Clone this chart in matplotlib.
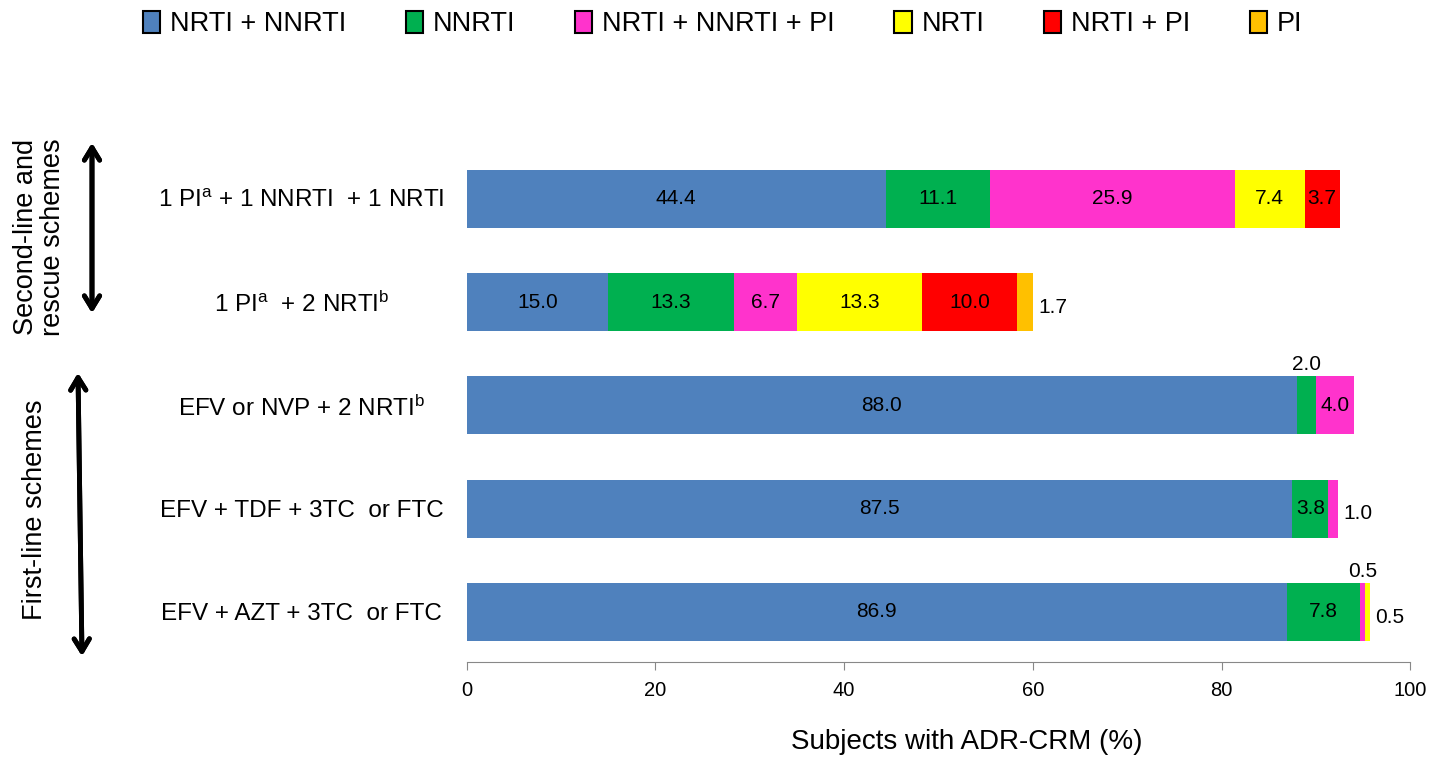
import numpy as np
import matplotlib.pyplot as plt

plt.rcParams['font.family'] = ['Liberation Sans', 'DejaVu Sans']
plt.rcParams['mathtext.default'] = 'regular'

# bottom to top
regimens = [
    'EFV + AZT + 3TC  or FTC',
    'EFV + TDF + 3TC  or FTC',
    'EFV or NVP + 2 NRTI$^{b}$',
    '1 PI$^{a}$  + 2 NRTI$^{b}$',
    '1 PI$^{a}$ + 1 NNRTI  + 1 NRTI',
]
classes = ['NRTI + NNRTI', 'NNRTI', 'NRTI + NNRTI + PI', 'NRTI', 'NRTI + PI', 'PI']
colors = ['#4F81BD', '#00B050', '#FF33CC', '#FFFF00', '#FF0000', '#FFC000']

nrti_nnrti = [86.9, 87.5, 88.0, 15.0, 44.4]
nnrti = [7.8, 3.8, 2.0, 13.3, 11.1]
nrti_nnrti_pi = [0.5, 1.0, 4.0, 6.7, 25.9]
nrti = [0.5, 0, 0, 13.3, 7.4]
nrti_pi = [0, 0, 0, 10.0, 3.7]
pi = [0, 0, 0, 1.7, 0]
series = [nrti_nnrti, nnrti, nrti_nnrti_pi, nrti, nrti_pi, pi]

# labels drawn outside the bar: (row, series) -> placement
outside = {(0, 2): 'above', (0, 3): 'right', (1, 2): 'right', (2, 1): 'above', (3, 5): 'right'}

fig = plt.figure(figsize=(14.45, 7.57), dpi=100)
ax = fig.add_axes([0.323, 0.1255, 0.653, 0.68])

y = np.arange(len(regimens))
h = 0.56
left = np.zeros(len(regimens))
for vals, col, name in zip(series, colors, classes):
    vals = np.array(vals)
    ax.barh(y, vals, height=h, left=left, color=col, label=name)
    left += vals

fs = 15
left = np.zeros(len(regimens))
for j, vals in enumerate(series):
    for i, v in enumerate(vals):
        if v == 0:
            continue
        mid = left[i] + v / 2
        pos = outside.get((i, j))
        if pos == 'above':
            ax.text(mid, y[i] + h / 2 + 0.02, f'{v:.1f}', ha='center', va='bottom', fontsize=fs)
        elif pos == 'right':
            ax.text(left[i] + v + 0.6, y[i] - 0.05, f'{v:.1f}', ha='left', va='center', fontsize=fs)
        else:
            ax.text(mid, y[i], f'{v:.1f}', ha='center', va='center', fontsize=fs)
    left += np.array(vals)

ax.set_xlim(0, 100)
ax.set_ylim(-0.485, 4.5)
ax.set_yticks(y)
ax.set_yticklabels(regimens, fontsize=17.5)
for t in ax.get_yticklabels():
    t.set_ha('center')
ax.tick_params(axis='y', length=0, pad=119)
ax.set_xticks(np.arange(0, 101, 20))
ax.tick_params(axis='x', labelsize=14.5, length=6, direction='out', color='#888888', pad=8)
for s in ['top', 'right', 'left']:
    ax.spines[s].set_visible(False)
ax.spines['bottom'].set_color('#888888')
ax.set_xlabel('Subjects with ADR-CRM (%)', fontsize=20)
ax.xaxis.set_label_coords(0.53, -0.13)

leg = fig.legend(loc='upper center', bbox_to_anchor=(0.5, 1.018), ncol=6, frameon=False,
                 fontsize=19.5, handlelength=0.65, handleheight=0.9, columnspacing=2.2,
                 handletextpad=0.35)
for p in leg.get_patches():
    p.set_edgecolor('black')
    p.set_linewidth(1.5)

# group arrows and labels
arrow = dict(arrowstyle='<->,head_length=0.9,head_width=0.55', color='black', lw=3.5,
             shrinkA=0, shrinkB=0)
fig.add_artist(plt.annotate('', xy=(92, 757 - 143), xytext=(92, 757 - 313),
                            xycoords='figure pixels', arrowprops=arrow))
fig.add_artist(plt.annotate('', xy=(78, 757 - 373), xytext=(82, 757 - 656),
                            xycoords='figure pixels', arrowprops=arrow))
fig.text(40 / 1445, 1 - 237 / 757, 'Second-line and\nrescue schemes', rotation=90,
         ha='center', va='center', fontsize=19.5, linespacing=1.05)
fig.text(35 / 1445, 1 - 510 / 757, 'First-line schemes', rotation=90,
         ha='center', va='center', fontsize=19.5)

fig.savefig('out.png', dpi=100)
